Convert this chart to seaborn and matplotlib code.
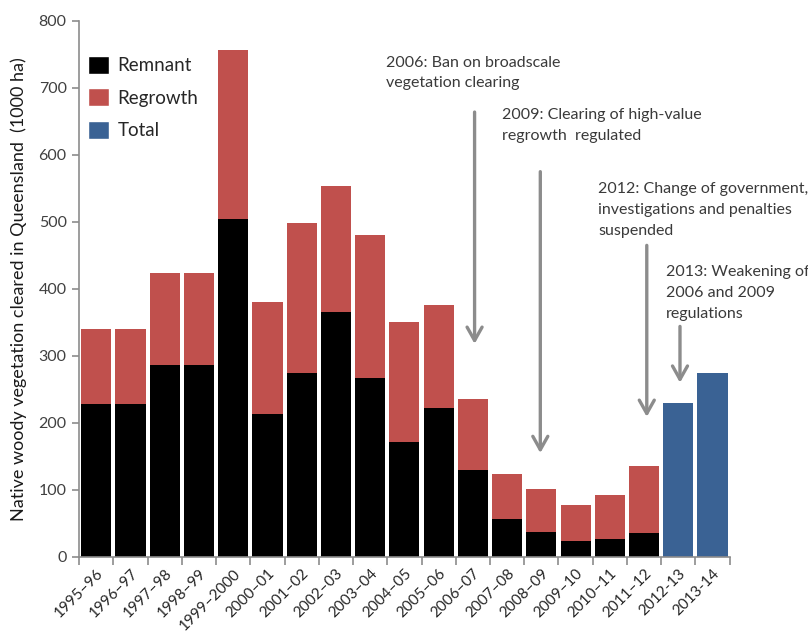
import numpy as np
import pandas as pd
import matplotlib
matplotlib.use("Agg")
import matplotlib.pyplot as plt
import seaborn as sns
from matplotlib.patches import Patch

periods = ['1995–96', '1996–97', '1997–98', '1998–99', '1999–2000', '2000–01',
           '2001–02', '2002–03', '2003–04', '2004–05', '2005–06', '2006–07',
           '2007–08', '2008–09', '2009–10', '2010–11', '2011–12', '2012-13', '2013-14']
remnant = [228, 228, 286, 286, 505, 213, 275, 366, 267, 172, 223, 130, 56, 37, 24, 26, 35]
regrowth = [112, 112, 138, 138, 252, 168, 223, 187, 214, 179, 153, 105, 68, 64, 54, 67, 100]
total_only = [229, 275]

annotations = [
    ("2006: Ban on broadscale\nvegetation clearing", 11.05, 318, 664, 8.45, 748),
    ("2009: Clearing of high-value\nregrowth  regulated", 12.97, 155, 575, 11.85, 670),
    ("2012: Change of government,\ninvestigations and penalties\nsuspended", 16.08, 209, 465, 14.66, 559),
    ("2013: Weakening of\n2006 and 2009\nregulations", 17.05, 260, 344, 16.63, 435),
]

RED = '#C0504D'
BLUE = '#3A6294'
BLACK = '#000000'

sns.set_theme(style='white')
plt.rcParams['font.family'] = ['Lato', 'DejaVu Sans']

n_stack = len(remnant)
rows = []
for i in range(n_stack):
    rows.append((periods[i], 'Regrowth', remnant[i] + regrowth[i]))
for i in range(n_stack):
    rows.append((periods[i], 'Remnant', remnant[i]))
for j, v in enumerate(total_only):
    rows.append((periods[n_stack + j], 'Total', v))
df = pd.DataFrame(rows, columns=['period', 'series', 'value'])

fig = plt.figure(figsize=(8.08, 6.35), dpi=100)
ax = fig.add_axes([0.098, 0.123, 0.805, 0.844])

sns.barplot(data=df, x='period', y='value', hue='series', order=periods,
            hue_order=['Regrowth', 'Remnant', 'Total'],
            palette={'Regrowth': RED, 'Remnant': BLACK, 'Total': BLUE},
            dodge=False, width=0.88, saturation=1, ax=ax, legend=False,
            linewidth=0)

ax.set_xlim(-0.5, len(periods) - 0.5)
ax.set_ylim(0, 800)
ax.set_yticks(np.arange(0, 801, 100))
ax.set_xlabel('')
ax.set_ylabel('Native woody vegetation cleared in Queensland  (1000 ha)',
              fontsize=13, color='#1a1a1a', labelpad=8)

for s in ['top', 'right']:
    ax.spines[s].set_visible(False)
for s in ['left', 'bottom']:
    ax.spines[s].set_color('#8c8c8c')
    ax.spines[s].set_linewidth(1.2)

ax.set_xticks(range(len(periods)))
ax.set_xticklabels(periods, rotation=45, ha='right', rotation_mode='anchor',
                   fontsize=11, color='#262626')
ax.tick_params(axis='x', which='major', length=0, pad=7)
ax.set_xticks(np.arange(-0.5, len(periods), 1), minor=True)
ax.tick_params(axis='x', which='minor', length=6, width=1.2, color='#8c8c8c',
               direction='out', bottom=True)
ax.tick_params(axis='y', length=5, width=1.2, color='#8c8c8c', direction='out',
               left=True, labelsize=11.5, labelcolor='#404040', pad=4)

for text, xa, ytip, ytop, xt, yt in annotations:
    ax.annotate('', xy=(xa, ytip), xytext=(xa, ytop),
                arrowprops=dict(arrowstyle='->,head_length=0.8,head_width=0.45',
                                color='#8c8c8c', lw=2.4, shrinkA=0, shrinkB=0))
    ax.text(xt, yt, text, fontsize=11.5, color='#3a3a3a', ha='left', va='top',
            linespacing=1.6, clip_on=False)

handles = [Patch(facecolor=BLACK, label='Remnant'),
           Patch(facecolor=RED, label='Regrowth'),
           Patch(facecolor=BLUE, label='Total')]
ax.legend(handles=handles, loc='upper left', bbox_to_anchor=(0.014, 0.935),
          frameon=False, fontsize=13.5, handlelength=1.1, handleheight=1.1,
          handletextpad=0.45, labelspacing=0.75, borderpad=0, borderaxespad=0)

fig.savefig('out.png', dpi=100)
